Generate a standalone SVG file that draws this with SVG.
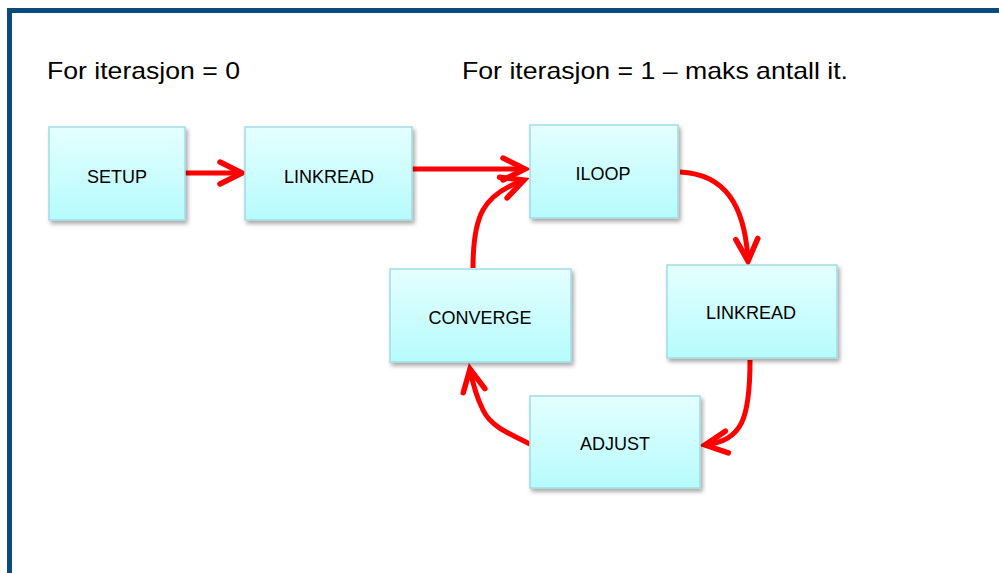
<svg xmlns="http://www.w3.org/2000/svg" width="999" height="573" viewBox="0 0 999 573">
<defs>
<linearGradient id="boxFill" x1="0" y1="0" x2="0" y2="1">
<stop offset="0" stop-color="#e4ffff"/>
<stop offset="1" stop-color="#b6fbfc"/>
</linearGradient>
<filter id="shadow" x="-10%" y="-10%" width="130%" height="140%">
<feDropShadow dx="2" dy="3" stdDeviation="2" flood-color="#000" flood-opacity="0.35"/>
</filter>
<marker id="arrow" markerUnits="userSpaceOnUse" viewBox="-30 -15 36 30" refX="0" refY="0" markerWidth="36" markerHeight="30" orient="auto" overflow="visible">
<path d="M-22,-11 L0,0 L-22,11" fill="none" stroke="#ff0000" stroke-width="5.5" stroke-linecap="round" stroke-linejoin="miter"/>
</marker>
<style>
.box { fill: url(#boxFill); stroke: #a2dbe4; stroke-width: 1.5; filter: url(#shadow); }
.lbl { font-family: "Liberation Sans", Arial, sans-serif; font-size: 18px; fill: #000; text-anchor: middle; }
.title { font-family: "Liberation Sans", Arial, sans-serif; font-size: 24px; fill: #000; }
.conn { fill: none; stroke: #ff0000; stroke-width: 5; stroke-linecap: butt; marker-end: url(#arrow); }
</style>
</defs>
<rect x="0" y="0" width="999" height="573" fill="#ffffff"/>
<rect x="9.5" y="10.5" width="1010" height="600" fill="none" stroke="#0b4a7c" stroke-width="5"/>
<text class="title" x="47" y="79" textLength="193" lengthAdjust="spacingAndGlyphs">For iterasjon = 0</text>
<text class="title" x="462" y="79" textLength="386" lengthAdjust="spacingAndGlyphs">For iterasjon = 1 – maks antall it.</text>
<g id="connectors">
<path class="conn" d="M185,173 L242,173"/>
<path class="conn" d="M412,169 L525,169"/>
<path class="conn" d="M473,268 C473,215 483,195 524,180"/>
<path class="conn" d="M680,172 C725,174 745,205 748,261"/>
<path class="conn" d="M750,360 C750,420 742,440 705,445"/>
<path class="conn" d="M530,444 C505,432 490,425 483,410 C477,398 473,385 470,369"/>
</g>
<g id="setup"><rect class="box" x="49" y="127" width="136" height="93"/><text class="lbl" x="117" y="183">SETUP</text></g>
<g id="linkread1"><rect class="box" x="245" y="127" width="167" height="93"/><text class="lbl" x="329" y="183">LINKREAD</text></g>
<g id="iloop"><rect class="box" x="530" y="125" width="148" height="93"/><text class="lbl" x="603" y="180">ILOOP</text></g>
<g id="converge"><rect class="box" x="390" y="269" width="181" height="93"/><text class="lbl" x="480" y="324">CONVERGE</text></g>
<g id="linkread2"><rect class="box" x="667" y="265" width="170" height="93"/><text class="lbl" x="751" y="319">LINKREAD</text></g>
<g id="adjust"><rect class="box" x="530" y="396" width="170" height="92"/><text class="lbl" x="615" y="450">ADJUST</text></g>
</svg>
